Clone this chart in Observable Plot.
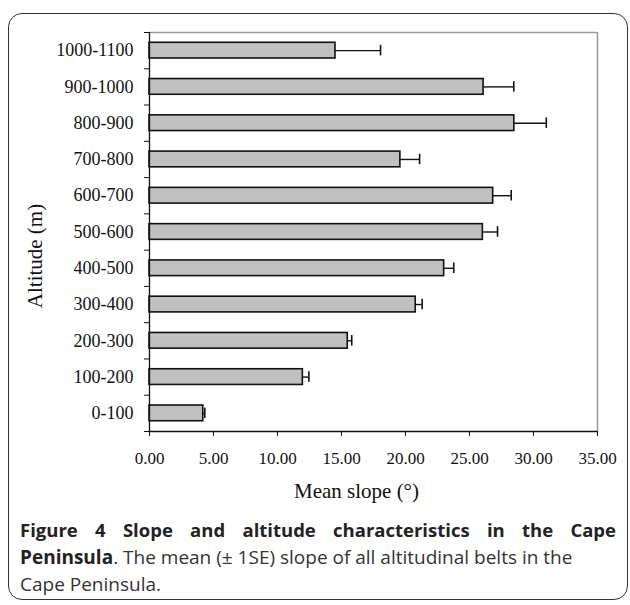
<!DOCTYPE html>
<html>
<head>
<meta charset="utf-8">
<script src="https://cdn.jsdelivr.net/npm/d3@7"></script>
<script src="https://cdn.jsdelivr.net/npm/@observablehq/plot@0.6"></script>
<style>
  html, body { margin: 0; padding: 0; background: #fff; }
  #page { position: relative; width: 630px; height: 605px; overflow: hidden; }
  #box { position: absolute; left: 8px; top: 13px; width: 620px; height: 587px;
         border: 1.5px solid #333; border-radius: 14px; box-sizing: border-box; }
  #chart { position: absolute; left: 0; top: 0; }
  #ytitle { position: absolute; left: -65px; top: 244px; width: 200px; height: 24px; line-height: 24px;
            text-align: center; transform: rotate(-90deg);
            font-family: "Liberation Serif", "Times New Roman", serif; font-size: 21px; color: #111; }
  .cap { position: absolute; left: 20px; font-family: "Open Sans", sans-serif; font-size: 19px;
         line-height: 26px; color: #333; white-space: nowrap; }
  #cap1 { top: 517px; width: 596px; text-align: justify; text-align-last: justify; white-space: normal;
          font-weight: 700; color: #222; font-size: 18.5px; }
  #cap2 { top: 544px; }
  #cap3 { top: 571px; }
  .cap b { color: #222; font-weight: 700; }
</style>
</head>
<body>
<div id="page">
  <div id="box"></div>
  <div id="chart"></div>
  <div id="ytitle">Altitude (m)</div>
  <div class="cap" id="cap1">Figure 4 Slope and altitude characteristics in the Cape</div>
  <div class="cap" id="cap2"><b>Peninsula</b>. The mean (± 1SE) slope of all altitudinal belts in the</div>
  <div class="cap" id="cap3">Cape Peninsula.</div>
</div>
<script>
const categories = ["0-100", "100-200", "200-300", "300-400", "400-500", "500-600",
                    "600-700", "700-800", "800-900", "900-1000", "1000-1100"];
const meanSlope = [4.2, 11.98, 15.49, 20.8, 23.02, 26.04, 26.85, 19.6, 28.5, 26.1, 14.53];
const seSlope   = [0.12, 0.47, 0.31, 0.5, 0.75, 1.15, 1.41, 1.5, 2.5, 2.36, 3.52];
const xTicks = [0, 5, 10, 15, 20, 25, 30, 35];

const data = categories.map((c, i) => ({cat: c, idx: i, mean: meanSlope[i], se: seSlope[i]}));
const half = 0.2165;
const cap = 0.145;

const chart = Plot.plot({
  width: 630,
  height: 510,
  marginLeft: 149,
  marginRight: 33,
  marginTop: 32,
  marginBottom: 79,
  style: {fontFamily: "'Liberation Serif', 'Times New Roman', serif", fontSize: "17px", color: "#111", background: "transparent"},
  x: {domain: [0, 35], axis: null},
  y: {domain: [0, categories.length], axis: null},
  marks: [
    Plot.ruleX([35], {stroke: "#999", strokeWidth: 1.5}),
    Plot.ruleY([categories.length], {stroke: "#999", strokeWidth: 1.5}),
    Plot.rectX(data, {x1: 0, x2: "mean", y1: d => d.idx + 0.5 - half, y2: d => d.idx + 0.5 + half,
                      fill: "#c0c0c0", stroke: "#111", strokeWidth: 1.6}),
    Plot.ruleY(data, {x1: "mean", x2: d => d.mean + d.se, y: d => d.idx + 0.5, stroke: "#111", strokeWidth: 1.4}),
    Plot.ruleX(data, {x: d => d.mean + d.se, y1: d => d.idx + 0.5 - cap, y2: d => d.idx + 0.5 + cap, stroke: "#111", strokeWidth: 1.6}),
    Plot.ruleX([0], {stroke: "#111", strokeWidth: 1.3}),
    Plot.ruleY([0], {stroke: "#111", strokeWidth: 1.3}),
    Plot.axisX({ticks: xTicks, tickFormat: d3.format(".2f"), tickSize: 5, tickPadding: 15, label: null, stroke: "#111", fontSize: 17}),
    Plot.axisY({ticks: d3.range(categories.length + 1), tickFormat: () => "", tickSize: 5, label: null, stroke: "#111"}),
    Plot.axisY({ticks: categories.map((c, i) => i + 0.5), tickFormat: d => categories[Math.floor(d)], tickSize: 0, tickPadding: 16, label: null, fontSize: 18}),
    Plot.text(["Mean slope (°)"], {frameAnchor: "bottom", dx: -17, dy: 66, fontSize: 21, fill: "#111"})
  ]
});
document.getElementById("chart").appendChild(chart);
</script>
</body>
</html>
